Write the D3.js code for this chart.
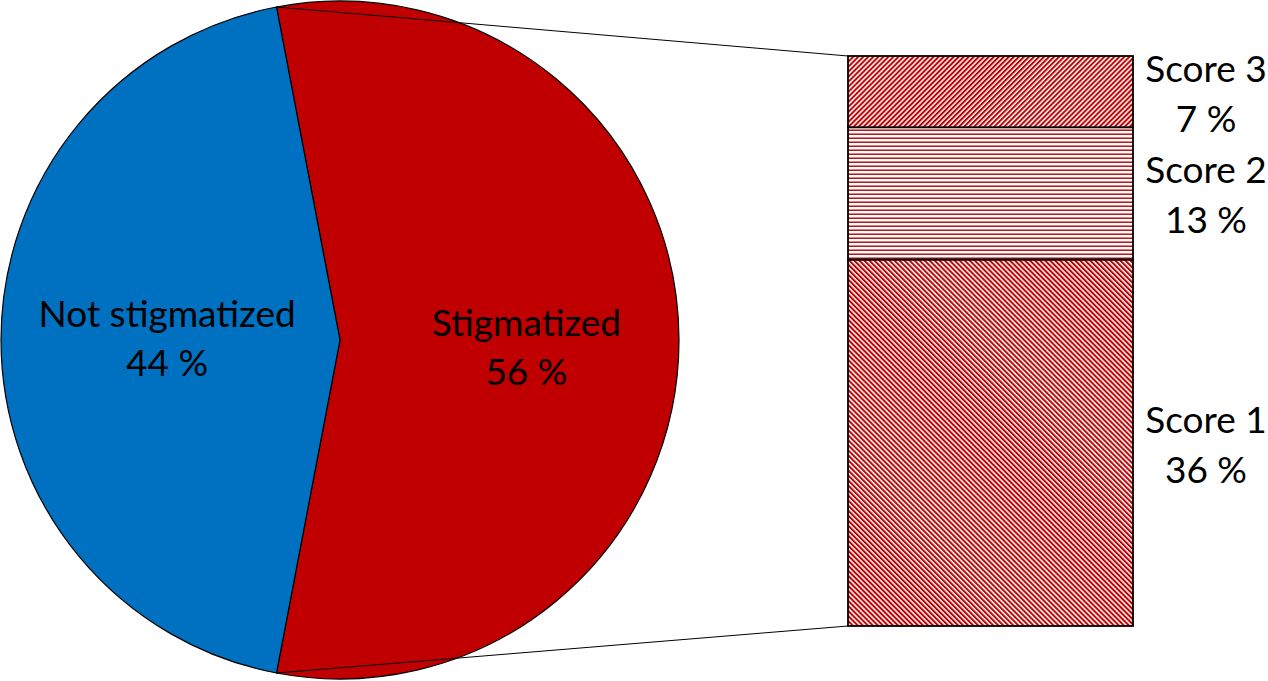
<!DOCTYPE html>
<html>
<head>
<meta charset="utf-8">
<script src="https://cdn.jsdelivr.net/npm/d3@7"></script>
<style>
html,body{margin:0;padding:0;background:#fff;}
svg{display:block;}
text{font-family:Lato,"Open Sans",sans-serif;fill:#000;}
</style>
</head>
<body>
<svg id="chart" width="1268" height="681"></svg>
<script>
const pieCategories = ["Stigmatized", "Not stigmatized"];
const pieValues = [56, 44];
const pieColors = ["#C00000", "#0070C0"];
const scoreCategories = ["Score 1", "Score 2", "Score 3"];
const scoreValues = [36, 13, 7];
const scorePatterns = ["diagDown", "horiz", "diagUp"];

const svg = d3.select("#chart");
const FS = 37;

// patterns
const defs = svg.append("defs");
function diagPattern(id, angle) {
  const p = defs.append("pattern").attr("id", id)
    .attr("patternUnits", "userSpaceOnUse")
    .attr("width", 3.55).attr("height", 10)
    .attr("patternTransform", `rotate(${angle})`);
  p.append("rect").attr("width", 3.55).attr("height", 10).attr("fill", "#fff");
  p.append("rect").attr("x", 0).attr("width", 2.0).attr("height", 10).attr("fill", "#C00000");
}
diagPattern("diagUp", 45);
diagPattern("diagDown", -45);
const ph = defs.append("pattern").attr("id", "horiz")
  .attr("patternUnits", "userSpaceOnUse").attr("width", 10).attr("height", 4);
ph.append("rect").attr("width", 10).attr("height", 4).attr("fill", "#fff");
ph.append("rect").attr("y", 1.5).attr("width", 10).attr("height", 1.4).attr("fill", "#B00000");

// pie
const cx = 340, cy = 340, r = 339;
const startDeg = -10.8;
const pie = d3.pie().sort(null)
  .startAngle(startDeg * Math.PI / 180)
  .endAngle((startDeg + 360) * Math.PI / 180);
const arcs = pie(pieValues);
const arc = d3.arc().innerRadius(0).outerRadius(r);
const g = svg.append("g").attr("transform", `translate(${cx},${cy})`);
g.selectAll("path.slice").data(arcs).join("path")
  .attr("class", "slice")
  .attr("d", arc)
  .attr("fill", (d, i) => pieColors[i])
  .attr("stroke", "#000").attr("stroke-width", 1.2);

const labelR = [0.55 * r, 0.51 * r];
const labelDy = [10, 1];
arcs.forEach((d, i) => {
  const a = (d.startAngle + d.endAngle) / 2;
  const x = Math.sin(a) * labelR[i];
  const y = -Math.cos(a) * labelR[i] + labelDy[i];
  const t = g.append("text").attr("text-anchor", "middle").attr("font-size", FS);
  t.append("tspan").attr("x", x).attr("y", y - 14).text(pieCategories[i]);
  t.append("tspan").attr("x", x).attr("y", y + 35).text(pieValues[i] + " %");
});

// bar of pie
const barX0 = 848, barX1 = 1133;
const total = d3.sum(scoreValues);
const y = d3.scaleLinear().domain([0, total]).range([626, 56]);
let cum = 0;
const segs = scoreValues.map((v, i) => {
  const s = { cat: scoreCategories[i], v, y0: cum, y1: cum + v, pat: scorePatterns[i] };
  cum += v;
  return s;
});
const bar = svg.append("g");
bar.selectAll("rect").data(segs).join("rect")
  .attr("x", barX0).attr("width", barX1 - barX0)
  .attr("y", d => y(d.y1)).attr("height", d => y(d.y0) - y(d.y1))
  .attr("fill", d => `url(#${d.pat})`)
  .attr("stroke", "#000").attr("stroke-width", 1.8);

segs.forEach(d => {
  const my = (y(d.y0) + y(d.y1)) / 2;
  const t = bar.append("text").attr("text-anchor", "middle").attr("font-size", FS);
  t.append("tspan").attr("x", 1206).attr("y", my - 10).text(d.cat);
  t.append("tspan").attr("x", 1206).attr("y", my + 40).text(d.v + " %");
});

// connector lines
const s0 = arcs[0].startAngle, s1 = arcs[0].endAngle;
svg.append("line")
  .attr("x1", cx + Math.sin(s0) * r).attr("y1", cy - Math.cos(s0) * r)
  .attr("x2", barX0).attr("y2", y(total))
  .attr("stroke", "#000").attr("stroke-width", 1);
svg.append("line")
  .attr("x1", cx + Math.sin(s1) * r).attr("y1", cy - Math.cos(s1) * r)
  .attr("x2", barX0).attr("y2", y(0))
  .attr("stroke", "#000").attr("stroke-width", 1);
</script>
</body>
</html>
